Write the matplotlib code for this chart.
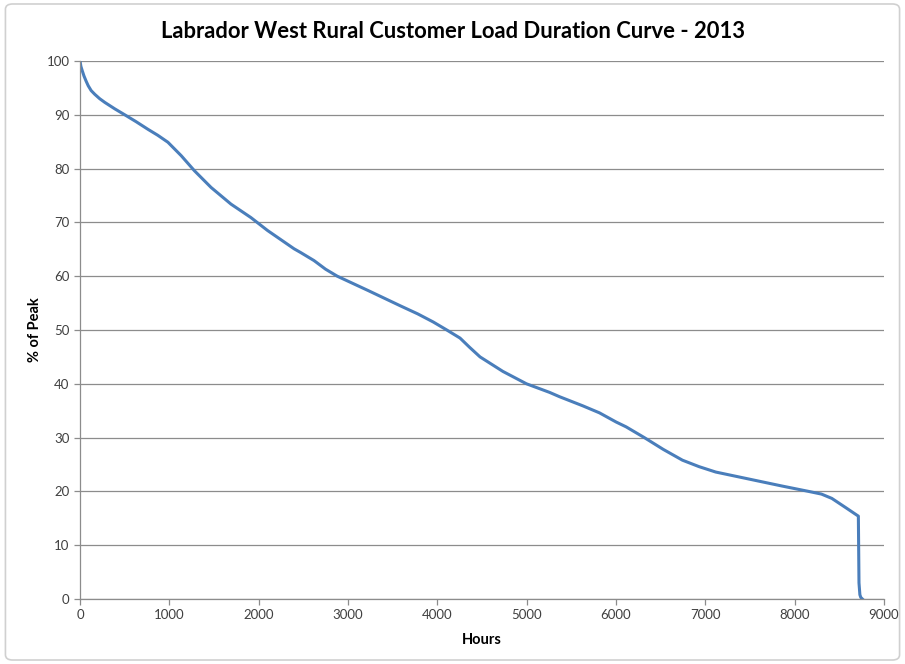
import matplotlib.pyplot as plt
from matplotlib.patches import FancyBboxPatch

# Load duration curve (hours vs % of peak)
hours = [0, 10, 25, 45, 70, 92, 125, 166, 220, 278, 390, 501, 630, 761, 870,
         984, 1133, 1281, 1467, 1690, 1913, 2099, 2396, 2470, 2620, 2749,
         2880, 3230, 3585, 3780, 3953, 4106, 4254, 4360, 4478, 4734, 4998,
         5257, 5368, 5629, 5815, 6001, 6113, 6317, 6530, 6744, 6930, 7116,
         7487, 7858, 8156, 8300, 8416, 8570, 8713, 8720, 8730, 8740, 8758]
pct_peak = [100, 99.0, 98.2, 97.2, 96.2, 95.4, 94.5, 93.8, 93.0, 92.3, 91.1,
            90.0, 88.7, 87.3, 86.2, 84.9, 82.4, 79.6, 76.5, 73.4, 70.9, 68.5,
            65.1, 64.4, 62.9, 61.3, 60.0, 57.3, 54.5, 53.0, 51.5, 50.0, 48.5,
            46.8, 45.0, 42.3, 40.0, 38.4, 37.6, 35.9, 34.6, 32.9, 32.0, 30.0,
            27.8, 25.8, 24.6, 23.6, 22.3, 21.0, 20.0, 19.5, 18.7, 17.0, 15.4,
            3.0, 0.8, 0.3, 0.0]

xticks = [0, 1000, 2000, 3000, 4000, 5000, 6000, 7000, 8000, 9000]
yticks = [0, 10, 20, 30, 40, 50, 60, 70, 80, 90, 100]

fig = plt.figure(figsize=(9.05, 6.64), dpi=100)
ax = fig.add_axes([80/905, 1-599/664, (884-80)/905, (599-61)/664])

# light border around the chart area like the Excel chart frame
frame = FancyBboxPatch((0.006, 0.006), 0.988, 0.988, boxstyle="round,pad=0,rounding_size=0.008",
                       transform=fig.transFigure, facecolor='none', edgecolor='#d0d0d0', lw=1.2)
fig.patches.append(frame)

ax.plot(hours, pct_peak, color='#4a7ebb', lw=2.2, solid_joinstyle='round')

ax.set_xlim(0, 9000)
ax.set_ylim(0, 100)
ax.set_xticks(xticks)
ax.set_yticks(yticks)
ax.grid(axis='y', color='#8c8c8c', lw=0.9)
ax.set_axisbelow(True)
for s in ['top', 'right']:
    ax.spines[s].set_visible(False)
for s in ['left', 'bottom']:
    ax.spines[s].set_color('#8c8c8c')
    ax.spines[s].set_linewidth(0.9)
ax.tick_params(axis='both', colors='#8c8c8c', length=4, width=0.9, labelsize=9.5,
               labelcolor='#404040')
for lbl in ax.get_xticklabels() + ax.get_yticklabels():
    lbl.set_fontfamily('Lato')

ax.set_xlabel('Hours', fontsize=10.5, fontweight='bold', family='Lato', labelpad=8)
ax.set_ylabel('% of Peak', fontsize=10.5, fontweight='bold', family='Lato', labelpad=3)
fig.text(0.5, 1-31/664, 'Labrador West Rural Customer Load Duration Curve - 2013',
         ha='center', va='center', fontsize=15.8, fontweight='bold', family='Lato')

fig.savefig('out.png', dpi=100)
